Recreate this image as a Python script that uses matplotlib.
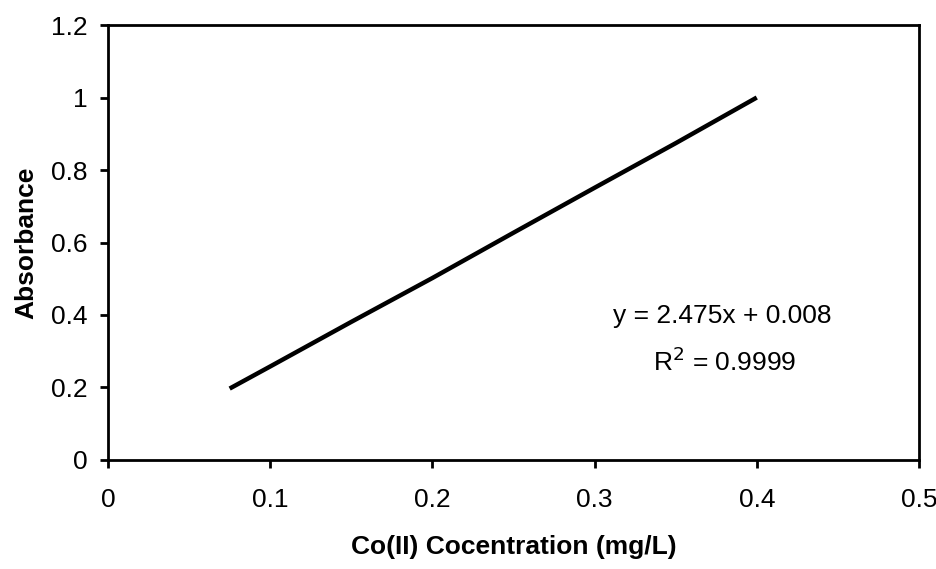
import numpy as np
import matplotlib.pyplot as plt

plt.rcParams['font.family'] = ['Liberation Sans', 'DejaVu Sans']

# calibration data
conc = [0.075, 0.1, 0.15, 0.2, 0.25, 0.3, 0.35, 0.4]
absorb = [0.197, 0.258, 0.381, 0.502, 0.627, 0.751, 0.874, 1.0]

x_ticks = [0, 0.1, 0.2, 0.3, 0.4, 0.5]
x_labels = ['0', '0.1', '0.2', '0.3', '0.4', '0.5']
y_ticks = [0, 0.2, 0.4, 0.6, 0.8, 1.0, 1.2]
y_labels = ['0', '0.2', '0.4', '0.6', '0.8', '1', '1.2']

fig = plt.figure(figsize=(9.36, 5.69), dpi=100)
ax = fig.add_axes([0.1154, 0.1916, 0.8664, 0.7644])

ax.plot(conc, absorb, color='black', lw=3.2, solid_capstyle='butt')

ax.set_xlim(0, 0.5)
ax.set_ylim(0, 1.2)
ax.set_xticks(x_ticks)
ax.set_xticklabels(x_labels)
ax.set_yticks(y_ticks)
ax.set_yticklabels(y_labels)
ax.tick_params(direction='out', length=6, width=2, labelsize=19, colors='black')
ax.tick_params(axis='x', pad=14)
ax.tick_params(axis='y', pad=9)
for s in ax.spines.values():
    s.set_linewidth(2)

ax.set_xlabel('Co(II) Cocentration (mg/L)', fontsize=19, fontweight='bold', labelpad=17)
ax.set_ylabel('Absorbance', fontsize=19, fontweight='bold', labelpad=9)

ax.text(0.757, 0.33, 'y = 2.475x + 0.008', transform=ax.transAxes,
        ha='center', va='center', fontsize=19)
ax.text(0.76, 0.225, 'R$^2$ = 0.9999', transform=ax.transAxes,
        ha='center', va='center', fontsize=19)

fig.savefig('out.png', dpi=100)
